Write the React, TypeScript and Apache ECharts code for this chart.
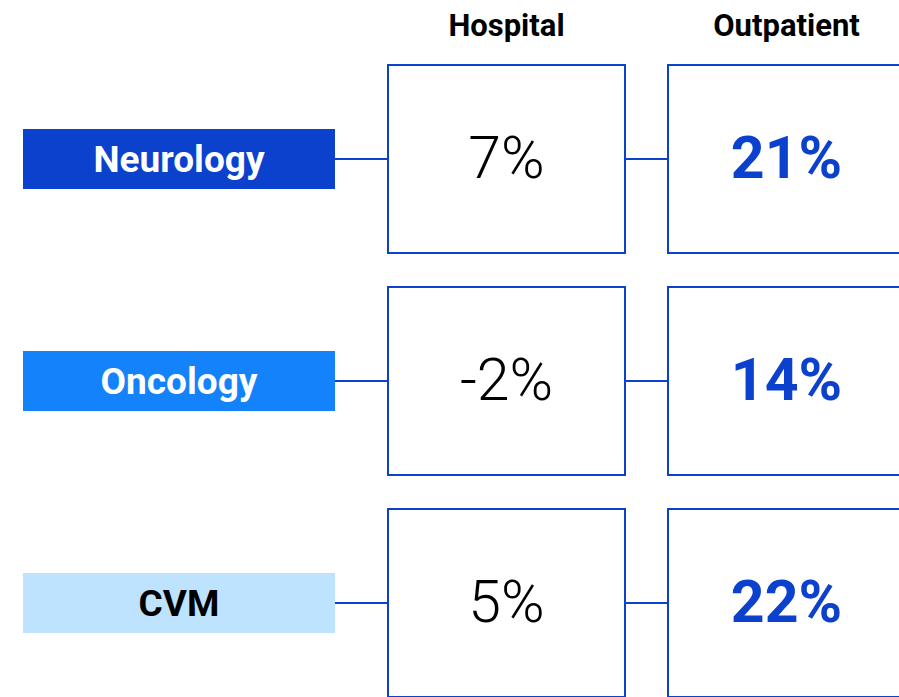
import React, { useEffect, useRef } from "react";
import * as echarts from "echarts";

const categories = ["Neurology", "Oncology", "CVM"];
const columns = ["Hospital", "Outpatient"];
const hospitalValues = ["7%", "-2%", "5%"];
const outpatientValues = ["21%", "14%", "22%"];
const labelColors = ["#0B41CD", "#1482FA", "#BDE3FF"];
const labelTextColors = ["#FFFFFF", "#FFFFFF", "#000000"];

const BLUE = "#0B41CD";
const FONT = "Roboto, 'Noto Sans', sans-serif";

export default function App() {
  const ref = useRef<HTMLDivElement>(null);
  useEffect(() => {
    document.body.style.margin = "0";
    const chart = echarts.init(ref.current!, null, { renderer: "svg" });
    const rows = categories.map((c, i) => [0, i]);
    const labelX0 = 23, labelX1 = 335, labelH = 60;
    const colX = [388, 668];
    const boxW = 237, boxH = 188;
    chart.setOption({
      animation: false,
      grid: { left: 0, right: 0, top: 159, bottom: 94 },
      xAxis: { type: "value", min: 0, max: 1, show: false },
      yAxis: { type: "value", min: 0, max: 2, inverse: true, show: false },
      graphic: columns.map((col, j) => ({
        type: "text",
        x: colX[j] + boxW / 2,
        y: 25,
        style: {
          text: col,
          fill: "#000",
          font: `bold 31px ${FONT}`,
          align: "center",
          verticalAlign: "middle",
        },
      })),
      series: [
        {
          type: "custom",
          data: rows,
          clip: false,
          renderItem: (params: any, api: any) => {
            const i = api.value(1);
            const cy = api.coord([0, i])[1];
            const children: any[] = [];
            children.push({
              type: "rect",
              shape: { x: labelX0, y: cy - labelH / 2, width: labelX1 - labelX0, height: labelH },
              style: { fill: labelColors[i] },
            });
            children.push({
              type: "text",
              x: (labelX0 + labelX1) / 2,
              y: cy,
              style: {
                text: categories[i],
                fill: labelTextColors[i],
                font: `bold 37px ${FONT}`,
                align: "center",
                verticalAlign: "middle",
              },
            });
            children.push({
              type: "line",
              shape: { x1: labelX1, y1: cy, x2: colX[0], y2: cy },
              style: { stroke: BLUE, lineWidth: 2 },
            });
            children.push({
              type: "line",
              shape: { x1: colX[0] + boxW, y1: cy, x2: colX[1], y2: cy },
              style: { stroke: BLUE, lineWidth: 2 },
            });
            [hospitalValues, outpatientValues].forEach((vals, j) => {
              children.push({
                type: "rect",
                shape: { x: colX[j], y: cy - boxH / 2, width: boxW, height: boxH },
                style: { fill: "#fff", stroke: BLUE, lineWidth: 2 },
              });
              children.push({
                type: "text",
                x: colX[j] + boxW / 2,
                y: cy - 2,
                style: {
                  text: vals[i],
                  fill: j === 0 ? "#000" : BLUE,
                  font: `${j === 0 ? 300 : "bold"} 59px ${FONT}`,
                  align: "center",
                  verticalAlign: "middle",
                },
              });
            });
            return { type: "group", children };
          },
        },
      ],
    });
    return () => chart.dispose();
  }, []);
  return <div ref={ref} style={{ width: 899, height: 697 }} />;
}
